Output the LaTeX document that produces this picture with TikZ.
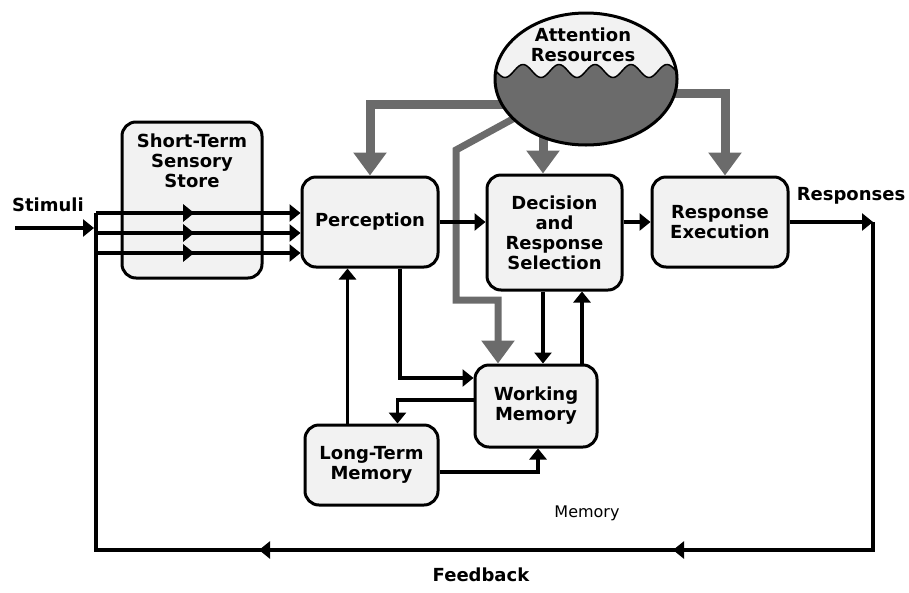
\documentclass[tikz,border=0pt]{standalone}
\usepackage{fontspec}
\setmainfont{DejaVu Sans}
\usetikzlibrary{arrows.meta, shapes.geometric, decorations.markings, backgrounds}
\definecolor{attngray}{gray}{0.42}
\definecolor{boxfill}{gray}{0.95}

\begin{document}
\begin{tikzpicture}[x=1pt, y=-1pt,
        box/.style={draw, line width=3pt, rounded corners=14pt, fill=boxfill, align=center, font=\bfseries\fontsize{18}{20}\selectfont},
        plain/.style={align=center, font=\bfseries\fontsize{18}{20}\selectfont},
        conn/.style={line width=3.5pt, -{Triangle[length=11pt, width=17pt]}},
        wire/.style={line width=3.5pt},
        attnarrow/.style={draw=attngray, line width=9pt, -{Triangle[length=23pt, width=32pt]}},
        midarrow/.style={postaction={decorate, decoration={markings, mark=at position #1 with {\arrow{Triangle[length=11pt, width=17pt]}}}}}]
    \useasboundingbox (0,0) rectangle (909,592);

    \node[box, minimum width=140pt, minimum height=156pt] (stss) at (192,200) {};
    \node[plain, anchor=north] (stsstxt) at ([yshift=-10pt]stss.north) {Short-Term\\Sensory\\Store};
    \node[box, minimum width=136pt, minimum height=90pt] (perc) at (370,222) {Perception};
    \node[box, minimum width=135pt, minimum height=115pt] (dec) at (554.5,232.5) {Decision\\and\\Response\\Selection};
    \node[box, minimum width=136pt, minimum height=90pt] (resp) at (720,222) {Response\\Execution};
    \node[box, minimum width=122pt, minimum height=82pt] (wm) at (536,406) {Working\\Memory};
    \node[box, minimum width=133pt, minimum height=80pt] (ltm) at (371.5,465) {Long-Term\\Memory};

    % attention resources, half full
    \node[ellipse, fill=boxfill, minimum width=182pt, minimum height=132pt] (attn) at (586,79) {};
    \begin{scope}
        \clip (attn.center) ellipse [x radius=91pt, y radius=66pt];
        \fill[attngray] plot[domain=480:690, samples=120] (\x, {71-6.5*cos(10*(\x-523))}) -- (690,150) -- (480,150) -- cycle;
        \draw[line width=1.5pt] plot[domain=480:690, samples=120] (\x, {71-6.5*cos(10*(\x-523))});
    \end{scope}
    \draw[line width=3pt] (attn.center) ellipse [x radius=91pt, y radius=66pt];
    \node[plain] (attntxt) at (583,45) {Attention\\Resources};

    \node[plain] (stim) at (48,205) {Stimuli};
    \node[plain] (outtxt) at (851,196) {Responses};
    \node[align=center, font=\fontsize{16}{18}\selectfont] (memtxt) at (587,513) {Memory};
    \node[plain] (fbtxt) at (481,575) {Feedback};

    \coordinate (in) at (15,228);
    \coordinate (top) at (96,213);
    \coordinate (out) at (873,222);
    \coordinate (fbl) at (96,550);

    \begin{scope}[on background layer]
        \draw[attnarrow] (attn.center) ++(0,25) -| (perc.north);
        \draw[attnarrow] ([xshift=-11.5pt]dec.north |- attn.center) -- ([xshift=-11.5pt]dec.north);
        \draw[attnarrow] (attn.center) ++(0,14) -| ([xshift=5pt]resp.north);
        \draw[attnarrow, line width=7pt] (attn.center) -- (456,150) -- (456,300) -| ([xshift=-38pt]wm.north);
    \end{scope}

    \draw[conn, shorten >=2pt] (in) -- (in -| top);
    \foreach \y in {213,233,253}
        \draw[conn, midarrow=0.48] (96,\y) -- (perc.west |- 96,\y);
    \draw[conn] (perc.east) -- (perc.east -| dec.west);
    \draw[conn] (resp.west -| dec.east) -- (resp.west);
    \draw[conn] (resp.east) -- (out);
    \draw[wire, midarrow=528pt, midarrow=942pt] (out) |- (fbl) -- (top); % feedback loop

    \draw[conn] ([xshift=30pt]perc.south) |- ([yshift=28pt]wm.west);
    \draw[conn] ([xshift=-24pt]ltm.north) -- ([xshift=-24pt]ltm.north |- perc.south);
    \draw[conn] ([yshift=6pt]wm.west) -| ([xshift=26pt]ltm.north);
    \draw[conn] ([yshift=-7pt]ltm.east) -| ([xshift=2pt]wm.south);
    \draw[conn] ([xshift=-11.5pt]dec.south) -- ([xshift=-11.5pt]dec.south |- wm.north);
    \draw[conn] ([xshift=46pt]wm.north) -- ([xshift=46pt]wm.north |- dec.south);
\end{tikzpicture}
\end{document}
